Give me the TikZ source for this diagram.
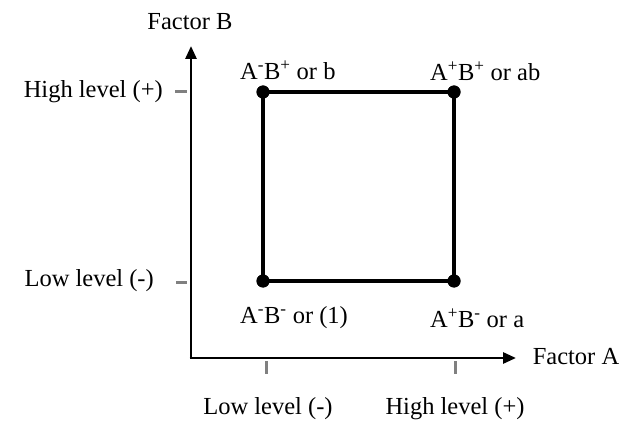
\documentclass[tikz,border=0pt]{standalone}
\usepackage{fontspec}
\setmainfont{Liberation Serif}
\usetikzlibrary{arrows.meta}
\begin{document}
\begin{tikzpicture}[x=1pt,y=-1pt,
  lbl/.style={font=\fontsize{24.5}{28}\selectfont, inner sep=0pt},
  axis/.style={line width=2.8pt, -{Triangle[length=13pt,width=11pt]}},
  edge/.style={line width=3.8pt},
  dotp/.style={circle, fill=black, inner sep=0pt, minimum size=13pt},
  tick/.style={line width=3pt, black!50}]
\useasboundingbox (0,0) rectangle (624,422);
\fill[white] (0,0) rectangle (624,422);
% axes
\coordinate (O) at (191,358);
\coordinate (Btop) at (191,46);
\coordinate (Aend) at (516,358);
\draw[axis] ([xshift=-1.4pt]O) -- (Aend);
\draw[axis] ([yshift=1.4pt]O) -- (Btop);
\node[lbl] (fa) at (576,357) {Factor A};
\node[lbl] (fb) at (190,22) {Factor B};
% square
\node[dotp] (ll) at (263,281) {};
\node[dotp] (hl) at (454,281) {};
\node[dotp] (lh) at (263,92) {};
\node[dotp] (hh) at (454,92) {};
\draw[edge] (ll.center) -- (hl.center) -- (hh.center) -- (lh.center) -- cycle;
\node[dotp] at (ll) {};
\node[dotp] at (hl) {};
\node[dotp] at (lh) {};
\node[dotp] at (hh) {};
% corner labels
\node[lbl, anchor=west] (tlh) at (240,70) {A\textsuperscript{-}B\textsuperscript{+} or b};
\node[lbl, anchor=west] (thh) at (430,71) {A\textsuperscript{+}B\textsuperscript{+} or ab};
\node[lbl, anchor=west] (tll) at (240,318) {A\textsuperscript{-}B\textsuperscript{-} or (1)};
\node[lbl, anchor=west] (thl) at (430,318) {A\textsuperscript{+}B\textsuperscript{-} or a};
% ticks
\coordinate (ty1a) at (175,92); \coordinate (ty1b) at (187,92);
\coordinate (ty2a) at (176,282); \coordinate (ty2b) at (187,282);
\coordinate (tx1a) at (266,361); \coordinate (tx1b) at (266,374);
\coordinate (tx2a) at (455,361); \coordinate (tx2b) at (455,374);
\draw[tick] (ty1a) -- (ty1b);
\draw[tick] (ty2a) -- (ty2b);
\draw[tick] (tx1a) -- (tx1b);
\draw[tick] (tx2a) -- (tx2b);
% level labels
\node[lbl, anchor=east] (yh) at (163,92) {High level (+)};
\node[lbl, anchor=east] (yl) at (154,281) {Low level (-)};
\node[lbl] (xl) at (268,409) {Low level (-)};
\node[lbl] (xh) at (455,409) {High level (+)};
\end{tikzpicture}
\end{document}
